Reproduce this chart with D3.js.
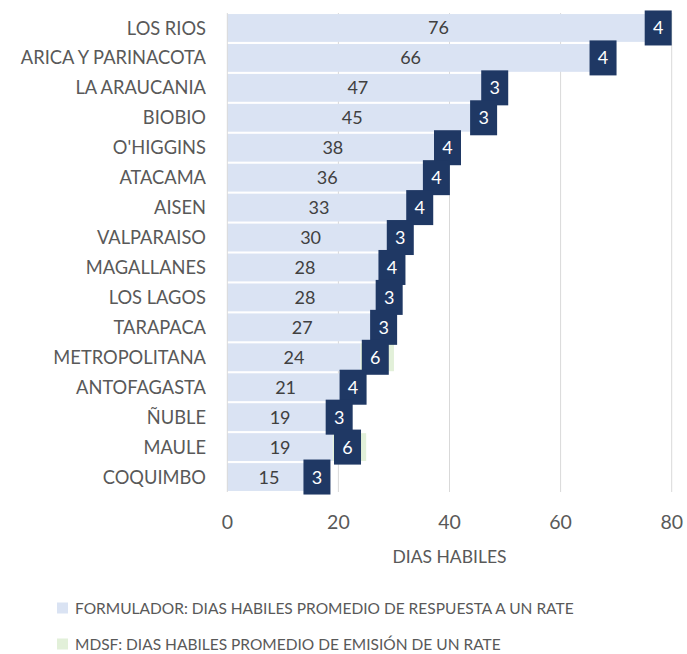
<!DOCTYPE html>
<html lang="es">
<head>
  <meta charset="UTF-8">
  <style>
    body { margin: 0; background: #fff; }
    svg { display: block; font-family: Lato, "Open Sans", sans-serif; }
  </style>
  <script src="https://d3js.org/d3.v7.min.js"></script>
</head>
<body>
<svg id="chart"></svg>
<script>
  const regiones = ["LOS RIOS", "ARICA Y PARINACOTA", "LA ARAUCANIA", "BIOBIO", "O'HIGGINS", "ATACAMA",
    "AISEN", "VALPARAISO", "MAGALLANES", "LOS LAGOS", "TARAPACA", "METROPOLITANA", "ANTOFAGASTA",
    "ÑUBLE", "MAULE", "COQUIMBO"];
  const formulador = [76, 66, 47, 45, 38, 36, 33, 30, 28, 28, 27, 24, 21, 19, 19, 15];
  const mdsf = [4, 4, 3, 3, 4, 4, 4, 3, 4, 3, 3, 6, 4, 3, 6, 3];
  const ticks = [0, 20, 40, 60, 80];
  const series = [
    "FORMULADOR: DIAS HABILES PROMEDIO DE RESPUESTA A UN RATE",
    "MDSF: DIAS HABILES PROMEDIO DE EMISIÓN DE UN RATE"
  ];

  const W = 687, H = 654;
  const mLeft = 227.3, mRight = 671.7, mTop = 13, mBottom = 492;

  const svg = d3.select("#chart").attr("width", W).attr("height", H);

  const x = d3.scaleLinear().domain([0, 80]).range([mLeft, mRight]);
  const y = d3.scaleBand().domain(regiones).range([mTop, mBottom]).paddingInner(0.07).paddingOuter(0.035);

  // gridlines
  svg.append("g").selectAll("line").data(ticks.slice(1)).join("line")
    .attr("x1", d => x(d)).attr("x2", d => x(d))
    .attr("y1", mTop).attr("y2", mBottom)
    .attr("stroke", "#d9d9d9").attr("stroke-width", 1);

  const rows = regiones.map((r, i) => ({ r, a: formulador[i], b: mdsf[i] }));

  // bars
  svg.append("g").selectAll("rect").data(rows).join("rect")
    .attr("x", x(0)).attr("y", d => y(d.r))
    .attr("width", d => x(d.a) - x(0)).attr("height", y.bandwidth())
    .attr("fill", "#dae3f3");
  svg.append("g").selectAll("rect").data(rows).join("rect")
    .attr("x", d => x(d.a)).attr("y", d => y(d.r))
    .attr("width", d => x(d.a + d.b) - x(d.a)).attr("height", y.bandwidth())
    .attr("fill", "#e2f0d9");

  // y axis line
  svg.append("line").attr("x1", x(0)).attr("x2", x(0)).attr("y1", mTop).attr("y2", mBottom)
    .attr("stroke", "#d9d9d9");

  // value labels on formulador
  svg.append("g").selectAll("text").data(rows).join("text")
    .attr("x", d => (x(0) + x(d.a)) / 2).attr("y", d => y(d.r) + y.bandwidth() / 2)
    .attr("dy", "0.36em").attr("text-anchor", "middle")
    .attr("font-size", 18).attr("fill", "#404040")
    .text(d => d.a);

  // mdsf label boxes
  const lab = svg.append("g").selectAll("g").data(rows).join("g")
    .attr("transform", d => `translate(${Math.min((x(d.a) + x(d.a + d.b)) / 2 - 2, mRight - 13.5)},${y(d.r) + y.bandwidth() / 2})`);
  lab.append("rect").attr("x", -13.5).attr("y", -17.5).attr("width", 27).attr("height", 35)
    .attr("fill", "#1f3864");
  lab.append("text").attr("text-anchor", "middle").attr("dy", "0.36em")
    .attr("font-size", 18).attr("fill", "#fff").text(d => d.b);

  // category labels
  svg.append("g").selectAll("text").data(regiones).join("text")
    .attr("x", 206).attr("y", d => y(d) + y.bandwidth() / 2)
    .attr("dy", "0.36em").attr("text-anchor", "end")
    .attr("font-size", 18.3).attr("fill", "#595959")
    .text(d => d);

  // x tick labels
  svg.append("g").selectAll("text").data(ticks).join("text")
    .attr("x", d => x(d)).attr("y", 522)
    .attr("dy", "0.36em").attr("text-anchor", "middle")
    .attr("font-size", 19.5).attr("fill", "#595959")
    .text(d => d);

  svg.append("text").attr("x", (mLeft + mRight) / 2).attr("y", 557).attr("dy", "0.36em")
    .attr("text-anchor", "middle").attr("font-size", 17.5).attr("fill", "#595959")
    .text("DIAS HABILES");

  // legend
  const colors = ["#dae3f3", "#e2f0d9"];
  const leg = svg.append("g").selectAll("g").data(series).join("g")
    .attr("transform", (d, i) => `translate(57,${608 + i * 36})`);
  leg.append("rect").attr("x", 0).attr("y", -5.5).attr("width", 11).attr("height", 11)
    .attr("fill", (d, i) => colors[i]);
  leg.append("text").attr("x", 18).attr("dy", "0.36em")
    .attr("font-size", 15.5).attr("fill", "#595959").text(d => d);
</script>
</body>
</html>
